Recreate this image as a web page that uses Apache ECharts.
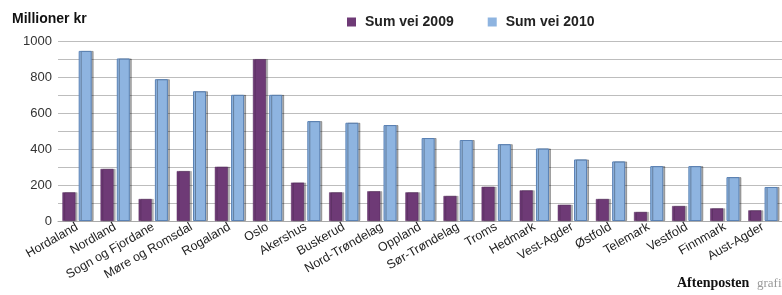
<!DOCTYPE html>
<html>
<head>
<meta charset="utf-8">
<script src="https://cdn.jsdelivr.net/npm/echarts@6/dist/echarts.min.js"></script>
<style>
  html, body { margin: 0; padding: 0; background: #fff; }
  #chart { width: 782px; height: 295px; }
</style>
</head>
<body>
<div id="chart"></div>
<script>
const fylker = ['Hordaland', 'Nordland', 'Sogn og Fjordane', 'Møre og Romsdal', 'Rogaland', 'Oslo',
  'Akershus', 'Buskerud', 'Nord-Trøndelag', 'Oppland', 'Sør-Trøndelag', 'Troms', 'Hedmark',
  'Vest-Agder', 'Østfold', 'Telemark', 'Vestfold', 'Finnmark', 'Aust-Agder'];
const sum2009 = [159, 289, 122, 277, 301, 899, 213, 159, 165, 159, 139, 190, 170, 90, 122, 50, 83, 70, 59];
const sum2010 = [945, 903, 788, 721, 701, 701, 555, 546, 533, 461, 450, 427, 403, 342, 331, 305, 305, 244, 189];
const seriesNames = ['Sum vei 2009', 'Sum vei 2010'];

const font = 'Liberation Sans';

const chart = echarts.init(document.getElementById('chart'));

chart.setOption({
  animation: false,
  textStyle: { fontFamily: font },
  grid: { left: 58, right: -4, top: 41, bottom: 74 },
  legend: {
    data: seriesNames,
    left: 342,
    top: 10,
    itemWidth: 9,
    itemHeight: 9,
    itemGap: 34,
    icon: 'rect',
    itemStyle: { borderWidth: 0, shadowColor: 'transparent' },
    textStyle: { fontFamily: font, fontSize: 14, fontWeight: 'bold', color: '#222', padding: [0, 0, 0, 4] }
  },
  graphic: [
    {
      type: 'text', left: 12, top: 12,
      style: { text: 'Millioner kr', font: 'bold 14px ' + font, fill: '#111' }
    },
    {
      type: 'text', left: 677, top: 276,
      style: { text: 'Aftenposten', font: 'bold 14px "Liberation Serif"', fill: '#111' }
    },
    {
      type: 'text', left: 757, top: 277,
      style: { text: 'grafikk', font: '13px "Liberation Serif"', fill: '#999' }
    }
  ],
  xAxis: {
    type: 'category',
    data: fylker,
    axisLine: { lineStyle: { color: '#aaa' } },
    axisTick: { show: false },
    axisLabel: { rotate: 30, interval: 0, margin: 5, fontSize: 12.5, color: '#222', fontFamily: font }
  },
  yAxis: {
    type: 'value',
    min: 0,
    max: 1000,
    interval: 100,
    axisLine: { show: false },
    axisTick: { show: false },
    axisLabel: {
      fontSize: 13, color: '#333', margin: 6,
      formatter: v => (v % 200 === 0 ? String(v) : '')
    },
    splitLine: { lineStyle: { color: '#bdbdbd', width: 1 } }
  },
  series: [
    {
      name: seriesNames[0],
      type: 'bar',
      data: sum2009,
      barWidth: 13,
      barGap: '25%',
      itemStyle: {
        color: '#6e3a76',
        borderColor: '#55285c',
        borderWidth: 0.5,
        shadowColor: 'rgba(0,0,0,0.3)',
        shadowOffsetX: 2,
        shadowBlur: 0
      }
    },
    {
      name: seriesNames[1],
      type: 'bar',
      data: sum2010,
      barWidth: 13,
      itemStyle: {
        color: '#8eb4e0',
        borderColor: '#5a82b5',
        borderWidth: 1,
        shadowColor: 'rgba(0,0,0,0.3)',
        shadowOffsetX: 2,
        shadowBlur: 0
      }
    }
  ]
});
</script>
</body>
</html>
